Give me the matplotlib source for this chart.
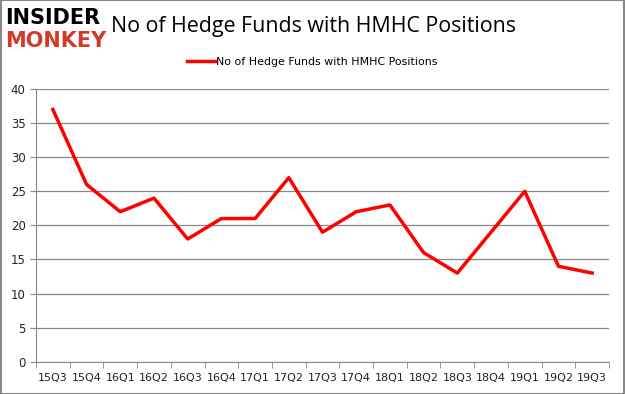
import matplotlib.pyplot as plt
from matplotlib.patches import Rectangle

quarters = ["15Q3", "15Q4", "16Q1", "16Q2", "16Q3", "16Q4", "17Q1", "17Q2", "17Q3",
            "17Q4", "18Q1", "18Q2", "18Q3", "18Q4", "19Q1", "19Q2", "19Q3"]
funds = [37, 26, 22, 24, 18, 21, 21, 27, 19, 22, 23, 16, 13, 19, 25, 14, 13]
y_ticks = [0, 5, 10, 15, 20, 25, 30, 35, 40]

fig = plt.figure(figsize=(6.25, 3.94), dpi=100)
ax = fig.add_axes([0.0576, 0.082, 0.9168, 0.692])

x = list(range(len(quarters)))
ax.plot(x, funds, color="#ff0000", linewidth=2.5, solid_joinstyle="round",
        label="No of Hedge Funds with HMHC Positions")

ax.set_xlim(-0.5, len(quarters) - 0.5)
ax.set_ylim(0, 40)
ax.set_yticks(y_ticks)
ax.set_xticks(x)
ax.set_xticklabels(quarters)
ax.set_xticks([i - 0.5 for i in range(len(quarters) + 1)], minor=True)
ax.tick_params(axis="x", which="major", length=0, pad=8, labelsize=8, colors="#222222")
ax.tick_params(axis="x", which="minor", length=4, color="#888888")
ax.tick_params(axis="y", length=4, color="#888888", labelsize=8.5, colors="#222222")
ax.grid(axis="y", color="#888888", linewidth=0.9)
ax.set_axisbelow(True)
for s in ["top", "right"]:
    ax.spines[s].set_visible(False)
for s in ["left", "bottom"]:
    ax.spines[s].set_color("#888888")

fig.legend(loc="center", bbox_to_anchor=(0.5, 0.842), frameon=False,
           fontsize=7.9, handlelength=2.5, handletextpad=0.1)

fig.text(0.502, 0.934, "No of Hedge Funds with HMHC Positions", ha="center", va="center",
         fontsize=15.4, family="Open Sans", fontweight="medium", color="black")
fig.text(0.008, 0.955, "INSIDER", ha="left", va="center", fontsize=15,
         fontweight="heavy", color="black", family="DejaVu Sans")
fig.text(0.008, 0.895, "MONKEY", ha="left", va="center", fontsize=15,
         fontweight="heavy", color="#d23a2a", family="DejaVu Sans")

fig.patches.append(Rectangle((0.001, 0.001), 0.998, 0.998, transform=fig.transFigure,
                             fill=False, edgecolor="#888888", linewidth=1.5))

fig.savefig("out.png", dpi=100)
